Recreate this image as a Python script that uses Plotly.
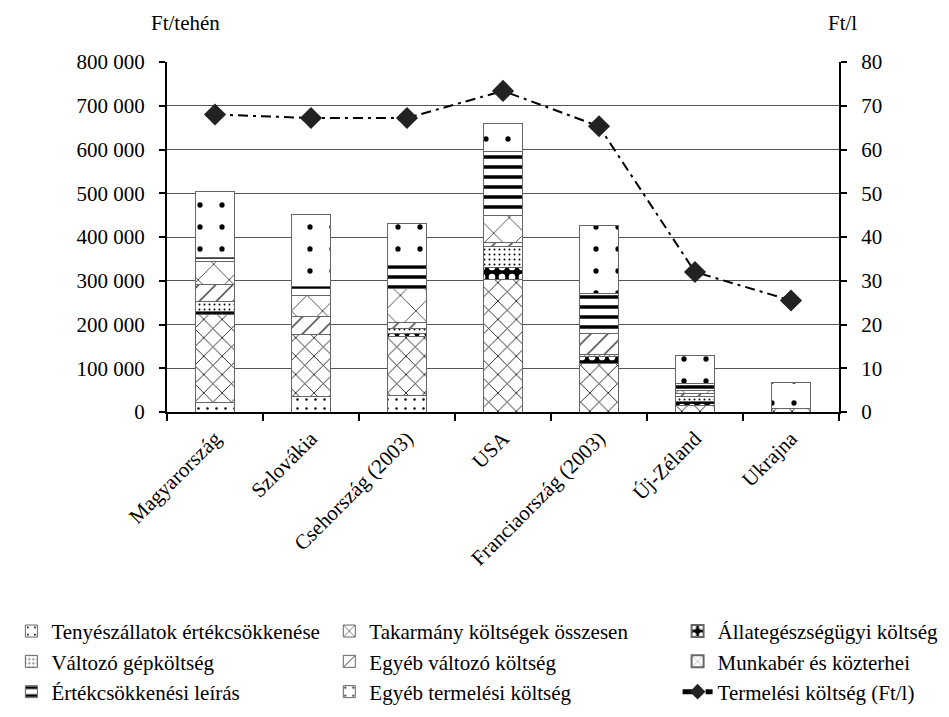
import plotly.graph_objects as go

# Categories (countries)
countries = ["Magyarország", "Szlovákia", "Csehország (2003)", "USA",
             "Franciaország (2003)", "Új-Zéland", "Ukrajna"]

# Cost components, Ft/tehén
tenyesz = [22000, 35000, 37000, 0, 0, 0, 0]
takarmany = [200000, 143000, 135000, 303000, 111000, 16000, 9000]
allategeszseg = [7000, 0, 8000, 28000, 17000, 8000, 0]
gepkoltseg = [23000, 0, 10000, 47000, 4000, 11000, 0]
egyeb_valtozo = [40000, 41000, 14000, 9000, 48000, 8000, 0]
munkaber = [53000, 48000, 79000, 63000, 0, 7000, 0]
ertekcsokkenes = [9000, 21000, 51000, 145000, 91000, 16000, 0]
egyeb_termelesi = [151000, 164000, 96000, 65000, 156000, 63000, 58000]

# Production cost, Ft/l
termelesi_ft_l = [68, 67.2, 67.2, 73.4, 65.3, 32, 25.5]

FONT = "Liberation Serif"
FS = 21

series = [
    ("Tenyészállatok értékcsökkenése", tenyesz,
     dict(shape=".", size=9, solidity=0.06, fgcolor="black", bgcolor="white"), "white", "legend"),
    ("Takarmány költségek összesen", takarmany,
     dict(shape="x", size=13, solidity=0.12, fgcolor="black", bgcolor="white"), "white", "legend2"),
    ("Állategészségügyi költség", allategeszseg,
     dict(shape=".", size=10, solidity=0.35, fgcolor="white", bgcolor="black"), "black", "legend3"),
    ("Változó gépköltség", gepkoltseg,
     dict(shape=".", size=5, solidity=0.12, fgcolor="black", bgcolor="white"), "white", "legend"),
    ("Egyéb változó költség", egyeb_valtozo,
     dict(shape="/", size=12, solidity=0.1, fgcolor="black", bgcolor="white"), "white", "legend2"),
    ("Munkabér és közterhei", munkaber,
     dict(shape="x", size=22, solidity=0.06, fgcolor="black", bgcolor="white"), "white", "legend3"),
    ("Értékcsökkenési leírás", ertekcsokkenes,
     dict(shape="-", size=10, solidity=0.35, fgcolor="black", bgcolor="white"), "white", "legend"),
    ("Egyéb termelési költség", egyeb_termelesi,
     dict(shape=".", size=22, solidity=0.045, fgcolor="black", bgcolor="white"), "white", "legend2"),
]

fig = go.Figure()

for name, vals, pattern, color, leg in series:
    fig.add_trace(go.Bar(
        x=countries, y=vals, name=name, legend=leg,
        marker=dict(color=color, line=dict(color="#666666", width=1),
                    pattern=dict(fillmode="replace", **pattern)),
        width=0.4,
    ))

fig.add_trace(go.Scatter(
    x=countries, y=termelesi_ft_l, name="Termelési költség (Ft/l)",
    yaxis="y2", legend="legend3", mode="lines+markers",
    line=dict(color="black", width=2, dash="10px,5px,3px,5px"),
    marker=dict(symbol="diamond", size=17, color="#222222"),
))

legend_common = dict(
    font=dict(family=FONT, size=FS, color="black"),
    orientation="v", xref="container", yref="container",
    xanchor="left", yanchor="top", y=0.148,
    bgcolor="rgba(0,0,0,0)", traceorder="normal",
)

fig.update_layout(
    width=949, height=717,
    margin=dict(l=167, r=110, t=62, b=305, autoexpand=False),
    plot_bgcolor="white", paper_bgcolor="white",
    barmode="stack",
    separators=", ",
    font=dict(family=FONT, size=FS, color="black"),
    showlegend=True,
    legend=dict(x=0.012, **legend_common),
    legend2=dict(x=0.347, **legend_common),
    legend3=dict(x=0.714, itemsizing="constant", **legend_common),
    xaxis=dict(
        showline=True, linecolor="black", linewidth=2,
        ticks="outside", tickson="boundaries", ticklen=7, tickwidth=2,
        tickcolor="black", tickangle=-45, automargin=False,
        ticklabelstandoff=4,
        tickfont=dict(family=FONT, size=FS),
    ),
    yaxis=dict(
        range=[0, 800000], tickvals=[0, 100000, 200000, 300000, 400000,
                                     500000, 600000, 700000, 800000],
        tickformat=",d", automargin=False,
        showline=True, linecolor="black", linewidth=2,
        ticks="outside", ticklen=6, tickwidth=2, tickcolor="black",
        showgrid=True, gridcolor="#555555", gridwidth=1,
        zeroline=False, ticklabelstandoff=10,
        tickfont=dict(family=FONT, size=FS),
    ),
    yaxis2=dict(
        range=[0, 80], tickvals=[0, 10, 20, 30, 40, 50, 60, 70, 80],
        overlaying="y", side="right", automargin=False,
        showline=True, linecolor="black", linewidth=2,
        ticks="outside", ticklen=6, tickwidth=2, tickcolor="black",
        showgrid=False, zeroline=False, ticklabelstandoff=10,
        tickfont=dict(family=FONT, size=FS),
    ),
    annotations=[
        dict(text="Ft/tehén", xref="paper", yref="paper", x=0.027, y=1.111,
             showarrow=False, xanchor="center", yanchor="middle",
             font=dict(family=FONT, size=FS)),
        dict(text="Ft/l", xref="paper", yref="paper", x=1.0045, y=1.111,
             showarrow=False, xanchor="center", yanchor="middle",
             font=dict(family=FONT, size=FS)),
    ],
)

fig.write_html("out.html")
